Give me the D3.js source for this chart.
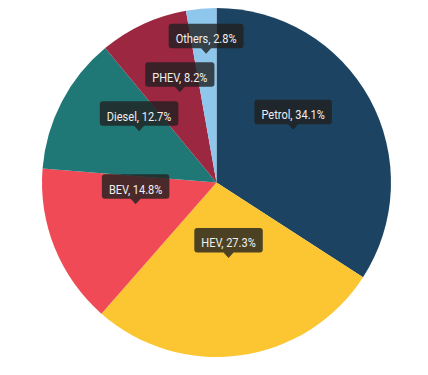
<!DOCTYPE html>
<html>
<head>
<meta charset="utf-8">
<script src="https://cdn.jsdelivr.net/npm/d3@7/dist/d3.min.js"></script>
<style>
html,body{margin:0;padding:0;background:#fff;}
svg{display:block;}
</style>
</head>
<body>
<div id="chart"></div>
<script>
const categories = ["Petrol", "HEV", "BEV", "Diesel", "PHEV", "Others"];
const shares = [34.1, 27.3, 14.8, 12.7, 8.2, 2.8];
const colors = ["#1c4462", "#fbc631", "#ef4a56", "#1f7876", "#9b2741", "#8ec6ec"];

const W = 428, H = 375;
const cx = 216.5, cy = 182.5, R = 174.5;

const svg = d3.select("#chart").append("svg").attr("width", W).attr("height", H);
const g = svg.append("g").attr("transform", `translate(${cx},${cy})`);

const data = categories.map((c, i) => ({ name: c, value: shares[i], color: colors[i] }));
const pie = d3.pie().sort(null).value(d => d.value);
const arcs = pie(data);
const arc = d3.arc().innerRadius(0).outerRadius(R);

g.selectAll("path.slice").data(arcs).join("path")
  .attr("class", "slice")
  .attr("d", arc)
  .attr("fill", d => d.data.color);

// labels (callout boxes)
const fontSize = 13.3, squeeze = 0.83, padX = 7, boxH = 24.5, arrowH = 5.5, arrowW = 5, tipOff = 11;

const layer = g.append("g");
const meas = layer.append("text").attr("font-family", "Roboto").attr("font-size", fontSize);
const labels = arcs.map(a => {
  const txt = `${a.data.name}, ${a.data.value}%`;
  meas.text(txt);
  const tw = meas.node().getComputedTextLength() * squeeze;
  const mid = (a.startAngle + a.endAngle) / 2;
  return { a, txt, tw, mid, rr: R / 2 };
});
meas.remove();

function box(l) {
  const x = Math.sin(l.mid) * l.rr, y = -Math.cos(l.mid) * l.rr - tipOff;
  const w = l.tw + 2 * padX;
  return { x, y, w, x0: x - w / 2, x1: x + w / 2, y1: y, y0: y - arrowH - boxH };
}
function overlap(b1, b2, m) {
  return b1.x0 < b2.x1 + m && b2.x0 < b1.x1 + m && b1.y0 < b2.y1 + m && b2.y0 < b1.y1 + m;
}
// simple collision avoidance: push smaller slice labels outward
for (let i = 0; i < labels.length; i++) {
  for (let k = 0; k < 200; k++) {
    const bi = box(labels[i]);
    let hit = false;
    for (let j = 0; j < i; j++) if (overlap(bi, box(labels[j]), 8)) hit = true;
    if (!hit) break;
    labels[i].rr += 1;
  }
}

labels.forEach(l => {
  const b = box(l);
  const lg = layer.append("g").attr("transform", `translate(${b.x},${b.y})`);
  const w = b.w;
  const p = d3.path();
  const r = 3, top = -arrowH - boxH, bot = -arrowH, left = -w / 2, right = w / 2;
  p.moveTo(left + r, top);
  p.lineTo(right - r, top);
  p.quadraticCurveTo(right, top, right, top + r);
  p.lineTo(right, bot - r);
  p.quadraticCurveTo(right, bot, right - r, bot);
  p.lineTo(arrowW, bot);
  p.lineTo(0, 0);
  p.lineTo(-arrowW, bot);
  p.lineTo(left + r, bot);
  p.quadraticCurveTo(left, bot, left, bot - r);
  p.lineTo(left, top + r);
  p.quadraticCurveTo(left, top, left + r, top);
  p.closePath();
  lg.append("path").attr("d", p.toString()).attr("fill", "rgba(32,32,32,0.8)");
  lg.append("text")
    .attr("transform", `translate(0,${top + 19.5}) scale(${squeeze},1)`)
    .attr("text-anchor", "middle")
    .attr("font-family", "Roboto")
    .attr("font-size", fontSize)
    .attr("fill", "#f0f0f0")
    .text(l.txt);
});
</script>
</body>
</html>
